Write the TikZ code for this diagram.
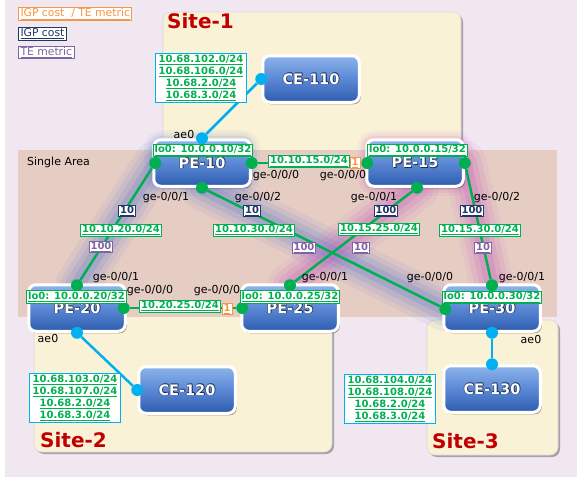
\documentclass[tikz,border=0pt]{standalone}
\usepackage{fontspec}
\setmainfont{DejaVu Sans}
\usetikzlibrary{shadows,calc}
\definecolor{lav}{HTML}{F1E7F1}
\definecolor{cream}{HTML}{FAF2D6}
\definecolor{area}{HTML}{E6CDC4}
\definecolor{netg}{HTML}{00B050}
\definecolor{cyanl}{HTML}{00B0F0}
\definecolor{igpb}{HTML}{1F3864}
\definecolor{tep}{HTML}{8064A2}
\definecolor{orng}{HTML}{F79646}
\definecolor{sitered}{HTML}{C00000}
\definecolor{nodetop}{HTML}{8DB4EA}
\definecolor{nodemid}{HTML}{5A88D6}
\definecolor{nodebot}{HTML}{2F5DAE}
\definecolor{txtsh}{HTML}{1E2E50}
\definecolor{glowb}{HTML}{5070D0}
\definecolor{glowp}{HTML}{C050C0}
\pgfdeclarelayer{bgl}
\pgfdeclarelayer{glowl}
\pgfsetlayers{bgl,glowl,main}
\newcommand\nodetxt[1]{\leavevmode\rlap{\kern0.9pt\raisebox{-0.9pt}{\textcolor{txtsh}{#1}}}\rlap{\kern-0.5pt\textcolor{txtsh}{#1}}\rlap{\kern0.5pt\raisebox{0.5pt}{\textcolor{txtsh}{#1}}}\textcolor{white}{#1}}
\tikzset{
  dev/.style={rounded corners=7pt, draw=white, line width=3pt, minimum width=96.5pt, minimum height=46.5pt,
    top color=nodetop, bottom color=nodebot, middle color=nodemid, inner sep=0pt,
    font=\fontsize{14.5}{14.5}\selectfont\bfseries,
    drop shadow={shadow xshift=1.5pt, shadow yshift=-2pt, opacity=0.35, fill=black}},
  gdot/.style={circle, fill=netg, inner sep=0pt, minimum size=12pt},
  cdot/.style={circle, fill=cyanl, inner sep=0pt, minimum size=12pt},
  glink/.style={draw=netg, line width=2.5pt},
  clink/.style={draw=cyanl, line width=2.5pt},
  net/.style={draw=netg, fill=white, line width=0.9pt, text=netg, font=\fontsize{10}{11}\selectfont\bfseries, inner xsep=1.5pt, inner ysep=0.8pt},
  addr/.style={draw=cyanl, fill=white, line width=1pt, text=netg, font=\fontsize{10}{12}\selectfont\bfseries, align=center, inner xsep=3pt, inner ysep=1.5pt},
  igp/.style={draw=igpb, fill=white, text=igpb, line width=0.9pt, font=\fontsize{10}{11}\selectfont\bfseries, inner xsep=1.5pt, inner ysep=0.6pt},
  te/.style={draw=tep, fill=white, text=tep, line width=0.9pt, font=\fontsize{10}{11}\selectfont\bfseries, inner xsep=1.5pt, inner ysep=0.6pt},
  both/.style={draw=orng, fill=white, text=orng, line width=0.9pt, font=\fontsize{10}{11}\selectfont\bfseries, inner xsep=1.5pt, inner ysep=0.6pt},
  legbox/.style={fill=white, line width=1pt, font=\fontsize{10.8}{11}\selectfont, inner xsep=2pt, inner ysep=1pt, anchor=west},
  port/.style={font=\fontsize{11}{11}\selectfont, inner sep=0pt},
  sitelbl/.style={font=\fontsize{20}{20}\selectfont\bfseries, text=sitered, inner sep=0pt, anchor=base west},
  sitebox/.style={fill=cream, draw=gray!30, line width=0.6pt, rounded corners=8pt,
    drop shadow={shadow xshift=2pt, shadow yshift=-2pt, opacity=0.3, fill=black}},
}
\begin{document}
\begin{tikzpicture}[x=1pt,y=-1pt]
\useasboundingbox (0,0) rectangle (582,483);
\begin{pgfonlayer}{bgl}
  \fill[white] (0,0) rectangle (582,483);
  \fill[lav] (5,0) rectangle (577,477);
  \path[sitebox] (163,12) rectangle (461,190);
  \path[sitebox] (34,290) rectangle (332,452);
  \fill[area] (18,150) rectangle (557,317);
  \path[sitebox] (427,320) rectangle (558,455);
\end{pgfonlayer}

% legend
\node[legbox, draw=orng, text=orng] (legA) at (18,14) {\underline{IGP cost \ / TE metric}};
\node[legbox, draw=igpb, text=igpb] (legB) at (18,34) {\underline{IGP cost}};
\node[legbox, draw=tep, text=tep] (legC) at (18,52.5) {\underline{TE metric}};

% site labels
\node[sitelbl] (s1) at (167,28) {Site-1};
\node[sitelbl] (s2) at (40,447) {Site-2};
\node[sitelbl] (s3) at (432,448) {Site-3};
\node[port, anchor=base west] (sa) at (27,165) {Single Area};

% devices
\node[dev] (PE10) at (202,163) {\nodetxt{PE-10}};
\node[dev] (PE15) at (415,163) {\nodetxt{PE-15}};
\node[dev] (PE20) at (77,308) {\nodetxt{PE-20}};
\node[dev] (PE25) at (290,308) {\nodetxt{PE-25}};
\node[dev] (PE30) at (492,308) {\nodetxt{PE-30}};
\node[dev] (CE110) at (311,79) {\nodetxt{CE-110}};
\node[dev] (CE120) at (187,390) {\nodetxt{CE-120}};
\node[dev] (CE130) at (492,389) {\nodetxt{CE-130}};

% port dots
\node[gdot] (d10e) at (PE10.east) {};
\node[gdot] (d10w) at ([xshift=3pt]PE10.west) {};
\node[gdot] (d10s) at (PE10.south) {};
\node[gdot] (d15w) at ([xshift=2pt]PE15.west) {};
\node[gdot] (d15s) at ([xshift=2pt]PE15.south) {};
\node[gdot] (d15e) at (PE15.east) {};
\node[gdot] (d20n) at ([yshift=-2pt]PE20.north) {};
\node[gdot] (d20e) at ([xshift=-3pt]PE20.east) {};
\node[gdot] (d25w) at ([xshift=2pt]PE25.west) {};
\node[gdot] (d25n) at ([yshift=-2pt]PE25.north) {};
\node[gdot] (d30w) at ([xshift=3pt,yshift=-1pt]PE30.west) {};
\node[gdot] (d30n) at ([yshift=-2pt]PE30.north) {};
\node[cdot] (d10n) at (PE10.north) {};
\node[cdot] (d20s) at (PE20.south) {};
\node[cdot] (d30s) at (PE30.south) {};
\node[cdot] (c110) at (CE110.west) {};
\node[cdot] (c120) at (CE120.west) {};
\node[cdot] (c130) at (CE130.north) {};

% glows
\begin{pgfonlayer}{glowl}
  \foreach \w/\o in {44/0.08,34/0.1,24/0.13,14/0.17} {
    \draw[glowb, line width=\w pt, opacity=\o, line cap=round] (d10w.center) -- (d20n.center);
    \draw[glowb, line width=\w pt, opacity=\o, line cap=round] (d10s.center) -- (d30w.center);
    \draw[glowp, line width=\w pt, opacity=\o, line cap=round] (d15s.center) -- (d25n.center);
    \draw[glowp, line width=\w pt, opacity=\o, line cap=round] (d15e.center) -- (d30n.center);
  }
  \foreach \w/\o in {16/0.06,10/0.08,5/0.1} {
    \draw[glowb, line width=\w pt, opacity=\o, rounded corners=10pt] (PE10.south west) rectangle (PE10.north east);
    \draw[glowp, line width=\w pt, opacity=\o, rounded corners=10pt] (PE15.south west) rectangle (PE15.north east);
  }
\end{pgfonlayer}

% links
\draw[glink] (d10e) -- (d15w);
\draw[glink] (d10w) -- (d20n);
\draw[glink] (d10s) -- (d30w);
\draw[glink] (d15s) -- (d25n);
\draw[glink] (d15e) -- (d30n);
\draw[glink] (d20e) -- (d25w);
\draw[clink] (d10n) -- (c110);
\draw[clink] (d20s) -- (c120);
\draw[clink] (d30s) -- (c130);

% loopbacks
\node[net] (lo10) at (203,150.5) {\underline{lo0: 10.0.0.10/32}};
\node[net] (lo15) at (417.5,150.5) {\underline{lo0: 10.0.0.15/32}};
\node[net] (lo20) at (76.5,297) {\underline{lo0: 10.0.0.20/32}};
\node[net] (lo25) at (290,297) {\underline{lo0: 10.0.0.25/32}};
\node[net] (lo30) at (492,297.5) {\underline{lo0: 10.0.0.30/32}};

% PE10 - PE15
\node[net] (n1015) at (309,161.5) {\underline{10.10.15.0/24}};
\node[both] (m1015) at (355,163) {\underline{1}};
\node[port] (p10a) at (276,176) {ge-0/0/0};
\node[port] (p15a) at (343,176) {ge-0/0/0};

% PE10 - PE20
\node[port] (p10b) at (166,198) {ge-0/0/1};
\node[igp] (i1020) at (127,211) {\underline{10}};
\node[net] (n1020) at (121,230) {\underline{10.10.20.0/24}};
\node[te] (t1020) at (101,247) {\underline{100}};
\node[port] (p20b) at (116,278) {ge-0/0/1};

% PE10 - PE30
\node[port] (p10c) at (258,198) {ge-0/0/2};
\node[igp] (i1030) at (252,211) {\underline{10}};
\node[net] (n1030) at (254,230) {\underline{10.10.30.0/24}};
\node[te] (t1030) at (304,248) {\underline{100}};
\node[port] (p30c) at (430,278) {ge-0/0/0};

% PE15 - PE25
\node[port] (p15b) at (374,198) {ge-0/0/1};
\node[igp] (i1525) at (386,211) {\underline{100}};
\node[net] (n1525) at (379,229) {\underline{10.15.25.0/24}};
\node[te] (t1525) at (361,248) {\underline{10}};
\node[port] (p25b) at (325,278) {ge-0/0/1};

% PE15 - PE30
\node[port] (p15c) at (497,198) {ge-0/0/2};
\node[igp] (i1530) at (472,211) {\underline{100}};
\node[net] (n1530) at (480,230) {\underline{10.15.30.0/24}};
\node[te] (t1530) at (483,248) {\underline{10}};
\node[port] (p30b) at (522,278) {ge-0/0/1};

% PE20 - PE25
\node[port] (p20a) at (150,291) {ge-0/0/0};
\node[port] (p25a) at (217,291) {ge-0/0/0};
\node[net] (n2025) at (180,306) {\underline{10.20.25.0/24}};
\node[both] (m2025) at (227,309) {\underline{1}};

% CE attachments
\node[port] (ae10) at (184,134) {ae0};
\node[port] (ae20) at (48,338) {ae0};
\node[port] (ae30) at (531,339) {ae0};
\node[addr] (a110) at (201,78) {\underline{10.68.102.0/24}\\\underline{10.68.106.0/24}\\\underline{10.68.2.0/24}\\\underline{10.68.3.0/24}};
\node[addr] (a120) at (75,398) {\underline{10.68.103.0/24}\\\underline{10.68.107.0/24}\\\underline{10.68.2.0/24}\\\underline{10.68.3.0/24}};
\node[addr] (a130) at (390,399) {\underline{10.68.104.0/24}\\\underline{10.68.108.0/24}\\\underline{10.68.2.0/24}\\\underline{10.68.3.0/24}};
\end{tikzpicture}
\end{document}
